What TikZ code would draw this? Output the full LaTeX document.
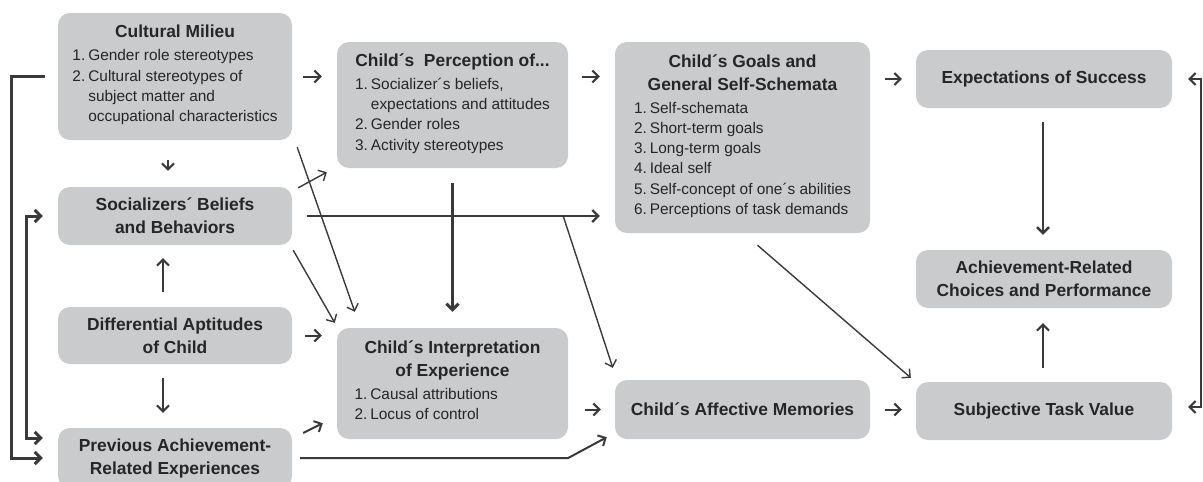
\documentclass[tikz,border=0pt]{standalone}
\usepackage{fontspec}
\setmainfont{Liberation Sans}
\usetikzlibrary{arrows.meta}
\definecolor{boxgray}{HTML}{CACBCD}
\definecolor{linegray}{HTML}{3A3A3A}
\definecolor{textgray}{HTML}{262626}
\newcommand{\itemlist}[1]{{\fontsize{15.4}{20.3}\selectfont\mdseries
  \begin{tabular}[t]{@{}l@{\hspace{3pt}}l@{}}#1\end{tabular}}}

\begin{document}
\begin{tikzpicture}[x = 1pt, y = -1pt,
    >= {Straight Barb[length = 6pt, width = 12pt]},
    box/.style = {rounded corners = 12pt, fill = boxgray, text = textgray,
      inner sep = 0pt, align = center, minimum width = 234pt,
      font = \fontsize{17.4}{23}\selectfont\bfseries},
    conn/.style = {->, draw = linegray, line width = 2pt},
    thin/.style = {->, draw = linegray, line width = 1.4pt},
    heavy/.style = {draw = linegray, line width = 3pt}]

  \useasboundingbox (0, 0) rectangle (1203, 482);

  \node[box, minimum height = 127pt] (milieu) at (175, 76.5)
    {Cultural Milieu\\\itemlist{1.& Gender role stereotypes\\ 2.& Cultural stereotypes of\\ & subject matter and\\ & occupational characteristics}};
  \node[box, minimum height = 58pt] (social) at (175, 216)
    {Socializers´ Beliefs\\and Behaviors};
  \node[box, minimum height = 57pt] (aptit) at (175, 335.5)
    {Differential Aptitudes\\of Child};
  \node[box, minimum height = 60pt] (prev) at (175, 458)
    {Previous Achievement-\\Related Experiences};

  \node[box, minimum width = 231pt, minimum height = 126pt] (percep) at (452.5, 105)
    {Child´s\ \ Perception of...\\\itemlist{1.& Socializer´s beliefs,\\ & expectations and attitudes\\ 2.& Gender roles\\ 3.& Activity stereotypes}};
  \node[box, minimum width = 231pt, minimum height = 111pt] (interp) at (452.5, 383.5)
    {Child´s Interpretation\\of Experience\\\makebox[196pt][l]{\itemlist{1.& Causal attributions\\ 2.& Locus of control}}};

  \node[box, minimum width = 255pt, minimum height = 191pt] (goals) at (742.5, 137.5)
    {Child´s Goals and\\General Self-Schemata\\\itemlist{1.& Self-schemata\\ 2.& Short-term goals\\ 3.& Long-term goals\\ 4.& Ideal self\\ 5.& Self-concept of one´s abilities\\ 6.& Perceptions of task demands}};
  \node[box, minimum width = 255pt, minimum height = 59pt] (affect) at (742.5, 409.5)
    {Child´s Affective Memories};

  \node[box, minimum width = 256pt, minimum height = 58pt] (expect) at (1044, 79)
    {Expectations of Success};
  \node[box, minimum width = 256pt, minimum height = 58pt] (choice) at (1044, 279)
    {Achievement-Related\\Choices and Performance};
  \node[box, minimum width = 256pt, minimum height = 58pt] (value) at (1044, 411)
    {Subjective Task Value};

  \draw[conn, shorten <= 11pt, shorten >= 15pt] (milieu.east) -- (milieu.east -| percep.west);
  \draw[conn, shorten <= 14pt, shorten >= 15pt] (percep.east |- milieu.east) -- (goals.west |- milieu.east);
  \draw[conn, shorten <= 15pt, shorten >= 14pt] (goals.east |- expect.west) -- (expect.west);
  \draw[conn, shorten <= 20pt, shorten >= 16pt] ([xshift = -7pt]milieu.south) -- ([xshift = -7pt]social.north);
  \draw[conn, shorten <= 15pt, shorten >= 13pt] ([xshift = -12pt]aptit.north) -- ([xshift = -12pt]social.south);
  \draw[conn, shorten <= 14pt, shorten >= 15pt] ([xshift = -12pt]aptit.south) -- ([xshift = -12pt]prev.north);
  \draw[conn, shorten <= 13pt, shorten >= 15pt] (aptit.east) -- (aptit.east -| interp.west);
  \draw[conn] ([shift = {(11, -25)}]prev.east) -- ([shift = {(-14, -16)}]interp.south west);
  \draw[conn, shorten <= 17pt, shorten >= 14pt] (interp.east |- affect.west) -- (affect.west);
  \draw[conn, shorten <= 15pt, shorten >= 14pt] (affect.east) -- (affect.east -| value.west);
  \draw[conn, shorten <= 14pt, shorten >= 15pt] ([xshift = -1pt]value.north) -- ([xshift = -1pt]choice.south);
  \draw[conn, line width = 2.4pt, shorten <= 14pt, shorten >= 15pt] ([xshift = -1pt]expect.south) -- ([xshift = -1pt]choice.north);

  \draw[conn, <->] ([xshift = 16pt]expect.east) -- ++(13, 0) |- ([shift = {(16, -4)}]value.east);
  \draw[heavy, ->] ([xshift = -13pt]milieu.west) -- ++(-33, 0) |- ([xshift = -15pt]prev.west);
  \draw[heavy, <->] ([xshift = -15pt]social.west) -- ++(-16, 0) |- ([shift = {(-15, -20)}]prev.west);

  \draw[conn, line width = 2.2pt, shorten <= 15pt, shorten >= 15pt] (social.east) -- (social.east -| goals.west);
  \draw[heavy, ->, shorten <= 15pt, shorten >= 16pt] (percep.south) -- (interp.north);
  \draw[thin] ([shift = {(5, 7)}]milieu.south east) -- ([shift = {(18, -16)}]interp.north west);
  \draw[thin] ([shift = {(6, 1)}]social.north east) -- ([shift = {(-10, 4)}]percep.south west);
  \draw[thin] ([shift = {(1, 5)}]social.south east) -- ([shift = {(-2, -5)}]interp.north west);
  \draw[thin] ([xshift = -5pt]interp.east |- social.east) -- ([shift = {(-2, -12)}]affect.north west);
  \draw[conn] ([xshift = 8pt]prev.east) -- (interp.east |- prev.east) -- ([shift = {(-8, -2)}]affect.south west);
  \draw[thin] ([shift = {(15, 12)}]goals.south) -- ([shift = {(-5, -4)}]value.north west);
\end{tikzpicture}
\end{document}
